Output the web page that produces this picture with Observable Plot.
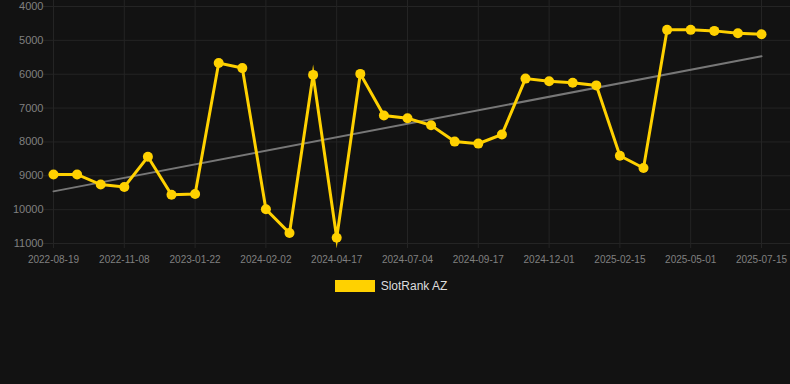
<!DOCTYPE html>
<html>
<head>
<meta charset="utf-8">
<script src="https://cdn.jsdelivr.net/npm/d3@7"></script>
<script src="https://cdn.jsdelivr.net/npm/@observablehq/plot@0.6"></script>
<style>
  html, body { margin: 0; padding: 0; background: #121212; width: 790px; height: 384px; overflow: hidden; }
  #chart svg { display: block; }
  .legend { display: flex; justify-content: center; align-items: center; margin-top: 9px; font-family: "Liberation Sans", Arial, sans-serif; font-size: 12px; color: #dddddd; padding-right: 8px; }
  .legend .sw { width: 40px; height: 12px; background: #FFD100; margin-right: 6px; }
</style>
</head>
<body>
<div id="chart"></div>
<script>
// SlotRank AZ rank, one value per observation (every third observation labeled)
const tickLabels = ["2022-08-19","2022-11-08","2023-01-22","2024-02-02","2024-04-17","2024-07-04","2024-09-17","2024-12-01","2025-02-15","2025-05-01","2025-07-15"];
const ranks = [8960, 8960, 9260, 9330, 8440, 9560, 9540, 5670, 5820, 9990, 10690, 6020, 10830, 5990, 7220, 7300, 7510, 7990, 8050, 7780, 6130, 6210, 6250, 6330, 8410, 8770, 4690, 4690, 4720, 4790, 4820];
const trendValues = [9460, 5470];
const seriesName = "SlotRank AZ";
const yTicks = [4000, 5000, 6000, 7000, 8000, 9000, 10000, 11000];

const data = ranks.map((v, i) => ({i, v}));
const lastIndex = ranks.length - 1;
const trend = [{i: 0, v: trendValues[0]}, {i: lastIndex, v: trendValues[1]}];
const xTicks = tickLabels.map((_, k) => k * 3);

const yellow = "#FFD100";
const gridColor = "#242424";

const chart = Plot.plot({
  width: 790,
  height: 270,
  marginLeft: 53,
  marginRight: 29,
  marginTop: 6,
  marginBottom: 27,
  style: { background: "#121212", color: "#808080", fontSize: "11px", fontFamily: "Liberation Sans, Arial, sans-serif", overflow: "visible" },
  x: { domain: [0, lastIndex], label: null },
  y: { domain: [4000, 11000], reverse: true, label: null },
  marks: [
    Plot.ruleY(yTicks, { stroke: gridColor, strokeWidth: 1, insetLeft: -10, insetRight: -29 }),
    Plot.ruleX(xTicks, { stroke: gridColor, strokeWidth: 1, insetTop: -6, insetBottom: -5 }),
    Plot.line(trend, { x: "i", y: "v", stroke: "#777", strokeWidth: 2 }),
    Plot.line(data, { x: "i", y: "v", stroke: yellow, strokeWidth: 3, strokeLinejoin: "miter", strokeMiterlimit: 10 }),
    Plot.dot(data, { x: "i", y: "v", r: 5, fill: yellow, stroke: "none" }),
    Plot.axisX({ ticks: xTicks, tickFormat: i => tickLabels[i / 3], tickSize: 0, tickPadding: 12, fontSize: 10, label: null }),
    Plot.axisY({ ticks: yTicks, tickFormat: d => String(d), tickSize: 0, tickPadding: 10, label: null })
  ]
});
document.getElementById("chart").appendChild(chart);

const legend = document.createElement("div");
legend.className = "legend";
legend.innerHTML = `<div class="sw"></div><span></span>`;
legend.querySelector("span").textContent = seriesName;
document.getElementById("chart").appendChild(legend);
</script>
</body>
</html>
